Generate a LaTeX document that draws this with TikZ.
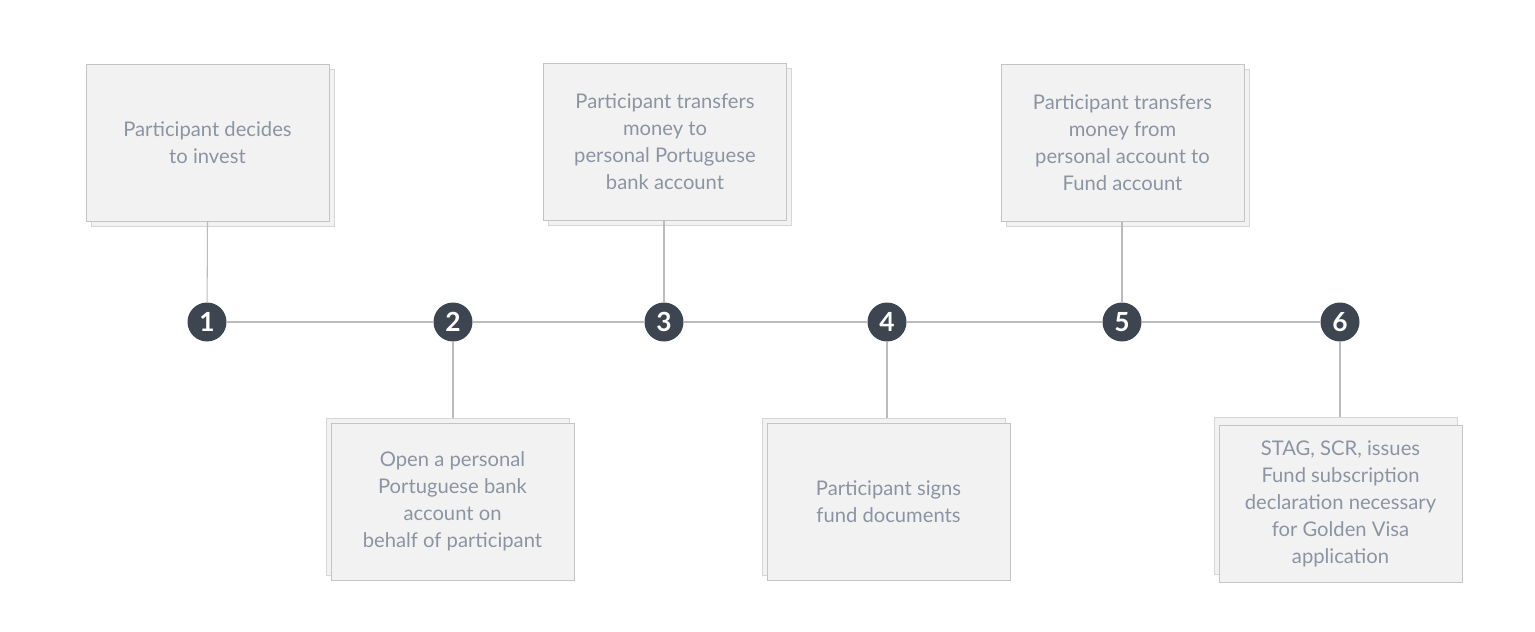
\documentclass[tikz,border=0pt]{standalone}
\usepackage{fontspec}
\setmainfont{Lato}
\usepackage{xcolor}
\usetikzlibrary{positioning, calc}

\definecolor{cardfill}{HTML}{F3F2F2}
\definecolor{cardline}{HTML}{C4C4C4}
\definecolor{backline}{HTML}{D6D6D6}
\definecolor{cardtext}{HTML}{8A94A3}
\definecolor{dotfill}{HTML}{3D4550}
\definecolor{linkgray}{HTML}{BBBBBB}

\tikzset{
  cardback/.style={draw=backline, fill=cardfill, minimum width=4.86cm, minimum height=3.14cm, inner sep=0pt},
  card/.style={draw=cardline, fill=cardfill, minimum width=4.86cm, minimum height=3.14cm, inner sep=0pt,
    align=center, text=cardtext, font=\fontsize{11.5}{15.4}\selectfont},
  stepdot/.style={circle, fill=dotfill, minimum size=0.78cm, inner sep=0pt, text=white,
    font=\bfseries\fontsize{15}{15}\selectfont},
  link/.style={draw=linkgray, line width=0.6pt}
}

\begin{document}
\begin{tikzpicture}[x=0.02cm, y=-0.02cm]
        \useasboundingbox (0,0) rectangle (1535,632);

        % Étapes sur l'axe
        \node[stepdot] (step1) at (207,322) {1};
        \node[stepdot] (step2) at (453,322) {2};
        \node[stepdot] (step3) at (664,322) {3};
        \node[stepdot] (step4) at (887,322) {4};
        \node[stepdot] (step5) at (1122,322) {5};
        \node[stepdot] (step6) at (1340,322) {6};

        % Cartes du haut
        \node[cardback] (back1) at (212.5,147.5) {};
        \node[card] (box1) at (207.5,142.5) {Participant decides\\to invest};
        \node[cardback] (back3) at (670,146.5) {};
        \node[card] (box3) at (665,141.5) {Participant transfers\\money to\\personal Portuguese\\bank account};
        \node[cardback] (back5) at (1127.5,148) {};
        \node[card] (box5) at (1122.5,143) {Participant transfers\\money from\\personal account to\\Fund account};

        % Cartes du bas
        \node[cardback] (back2) at (447.5,496.5) {};
        \node[card] (box2) at (452.5,501.5) {Open a personal\\Portuguese bank\\account on\\behalf of participant};
        \node[cardback] (back4) at (883.5,496.5) {};
        \node[card] (box4) at (888.5,501.5) {Participant signs\\fund documents};
        \node[cardback] (back6) at (1335.5,496) {};
        \node[card] (box6) at (1340.5,504) {STAG, SCR, issues\\Fund subscription\\declaration necessary\\for Golden Visa\\application};

        % Axe horizontal
        \draw[link] (step1) -- (step2);
        \draw[link] (step2) -- (step3);
        \draw[link] (step3) -- (step4);
        \draw[link] (step4) -- (step5);
        \draw[link] (step5) -- (step6);

        % Liens verticaux
        \draw[link] (box1.south) -- (step1);
        \draw[link] (box3.south -| step3) -- (step3);
        \draw[link] (box5.south -| step5) -- (step5);
        \draw[link] (step2) -- (step2 |- back2.north);
        \draw[link] (step4) -- (step4 |- back4.north);
        \draw[link] (step6) -- (step6 |- back6.north);
    \end{tikzpicture}
\end{document}
